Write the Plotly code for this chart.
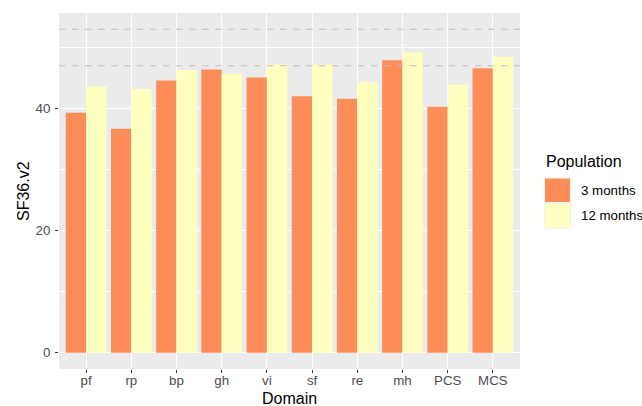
import plotly.graph_objects as go

domains = ["pf", "rp", "bp", "gh", "vi", "sf", "re", "mh", "PCS", "MCS"]
months3 = [39.3, 36.7, 44.6, 46.4, 45.1, 42.0, 41.6, 47.9, 40.3, 46.6]
months12 = [43.6, 43.2, 46.3, 45.7, 47.2, 47.2, 44.3, 49.2, 43.9, 48.5]
series_names = ["3 months", "12 months"]
series_colors = ["#FC8D59", "#FFFFBF"]
ref_lines = [47, 53]
y_ticks = [0, 20, 40]

fig = go.Figure()
for name, vals, col in zip(series_names, [months3, months12], series_colors):
    fig.add_trace(go.Bar(x=domains, y=vals, name=name, marker=dict(color=col, line=dict(width=0)),
                         showlegend=False))

for v in ref_lines:
    fig.add_shape(type="line", xref="paper", x0=0, x1=1, yref="y", y0=v, y1=v,
                  line=dict(color="#BEBEBE", width=1.1, dash="6.5px,6.5px"), layer="above")

ymax = max(max(months3), max(months12), max(ref_lines))
pad = 0.05 * ymax

L, R, T, B = 59, 122, 13, 37
W, H = 642, 406
pw, ph = W - L - R, H - T - B

def px(x):
    return (x - L) / pw

def py(y):
    return 1 - (y - T) / ph

TICK = 13.3
TITLE = 16

fig.update_layout(
    width=W, height=H,
    margin=dict(l=L, r=R, t=T, b=B, pad=0),
    paper_bgcolor="white", plot_bgcolor="#EBEBEB",
    barmode="group", bargap=0.1, bargroupgap=0,
    font=dict(family="Liberation Sans, Arial, sans-serif", size=12, color="#4D4D4D"),
    showlegend=False,
)
fig.update_xaxes(
    type="category", range=[-0.6, len(domains) - 0.4],
    showgrid=True, gridcolor="white", gridwidth=1.1,
    ticks="outside", ticklen=3, tickcolor="#333333", tickwidth=1.1,
    tickfont=dict(size=TICK, color="#4D4D4D"), showline=False, zeroline=False,
    ticklabelstandoff=-4, fixedrange=True,
)
fig.update_yaxes(
    range=[-pad, ymax + pad], tickvals=y_ticks,
    showgrid=True, gridcolor="white", gridwidth=1.1,
    minor=dict(tickvals=[10, 30, 50], showgrid=True, gridcolor="white", gridwidth=0.55, ticks=""),
    ticks="outside", ticklen=3, tickcolor="#333333", tickwidth=1.1,
    tickfont=dict(size=TICK, color="#4D4D4D"), showline=False, zeroline=False,
    ticklabelstandoff=2, fixedrange=True,
)

annos = [
    dict(text="Domain", x=px(L + pw / 2), y=py(398), xref="paper", yref="paper",
         xanchor="center", yanchor="middle", showarrow=False,
         font=dict(size=TITLE, color="black")),
    dict(text="SF36.v2", x=px(23), y=py(T + ph / 2), xref="paper", yref="paper",
         xanchor="center", yanchor="middle", showarrow=False, textangle=-90,
         font=dict(size=TITLE, color="black")),
    dict(text="Population", x=px(544), y=py(161), xref="paper", yref="paper",
         xanchor="left", yanchor="middle", showarrow=False,
         font=dict(size=TITLE, color="black")),
]
key_top = 177.5
key_size = 25.5
for i, (name, col) in enumerate(zip(series_names, series_colors)):
    y0 = key_top + i * key_size
    fig.add_shape(type="rect", xref="paper", yref="paper",
                  x0=px(544.5), x1=px(570.5), y0=py(y0 + 0.5), y1=py(y0 + key_size - 0.5),
                  fillcolor=col, line=dict(color="#F2F2F2", width=1))
    annos.append(dict(text=name, x=px(579), y=py(y0 + key_size / 2), xref="paper", yref="paper",
                      xanchor="left", yanchor="middle", showarrow=False,
                      font=dict(size=TICK, color="black")))
fig.update_layout(annotations=annos)

fig.write_html("out.html",
               config={"displayModeBar": False},
               post_script="document.body.style.margin='0';document.body.style.overflow='hidden';")
